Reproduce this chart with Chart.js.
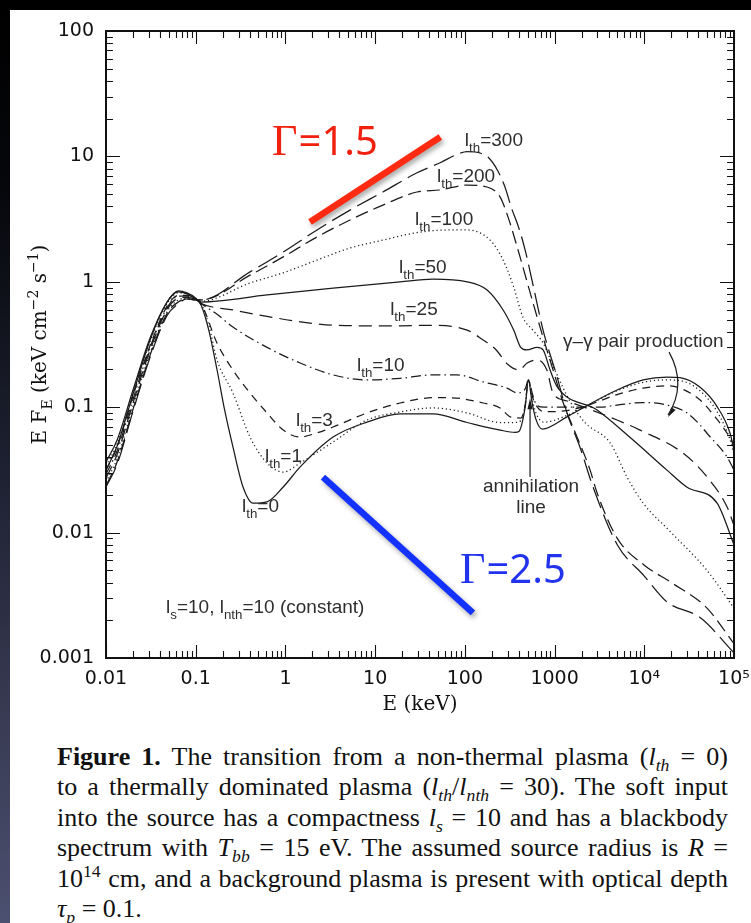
<!DOCTYPE html>
<html>
<head>
<meta charset="utf-8">
<script src="https://cdn.jsdelivr.net/npm/chart.js@4.4.1/dist/chart.umd.min.js"></script>
<style>
  html, body { margin: 0; padding: 0; width: 751px; height: 923px; overflow: hidden; background: #000; }
  #edge { position: absolute; left: 0; top: 0; width: 10px; height: 923px;
          background: linear-gradient(to bottom, #000 0%, #06070b 20%, #1d2030 50%, #383b53 78%, #4c5070 100%); }
  #sheet { position: absolute; left: 10px; top: 10px; width: 741px; height: 913px; background: #fff; }
  #plot { position: absolute; left: 0; top: 0; }
  #caption { position: absolute; left: 57px; top: 742px; width: 671px;
             font-family: "Liberation Serif", "Times New Roman", serif; font-size: 26px;
             line-height: 30.4px; color: #111; }
  #caption .ln { text-align: justify; text-align-last: justify; height: 30.4px; }
  #caption .ln.last { text-align: left; text-align-last: left; }
  #caption sub, #caption sup { font-size: 68%; line-height: 0; }
</style>
</head>
<body>
<div id="edge"></div>
<div id="sheet"></div>
<canvas id="plot" width="751" height="720"></canvas>
<div id="caption">
  <div class="ln"><b>Figure 1.</b> The transition from a non-thermal plasma (<i>l<sub>th</sub></i> = 0)</div>
  <div class="ln">to a thermally dominated plasma (<i>l<sub>th</sub></i>/<i>l<sub>nth</sub></i> = 30). The soft input</div>
  <div class="ln">into the source has a compactness <i>l<sub>s</sub></i> = 10 and has a blackbody</div>
  <div class="ln">spectrum with <i>T<sub>bb</sub></i> = 15 eV. The assumed source radius is <i>R</i> =</div>
  <div class="ln">10<sup>14</sup> cm, and a background plasma is present with optical depth</div>
  <div class="ln last"><i>τ<sub>p</sub></i> = 0.1.</div>
</div>
<script>
// ---- spectra: E (keV) and E F_E (keV cm^-2 s^-1) for each thermal compactness l_th ----
const E_L0 = [0.01, 0.0133, 0.02, 0.031, 0.048, 0.064, 0.08, 0.1, 0.115, 0.14, 0.173, 0.21, 0.26, 0.337, 0.435, 0.624, 0.945, 1.46, 3.4, 8.1, 19, 44, 106, 247, 363, 400, 470, 511, 560, 620, 730, 1377, 2300, 4970, 9700, 17900, 25000, 41900, 64800, 90400, 100000];
const F_L0 = [0.0366, 0.0547, 0.137, 0.356, 0.69, 0.845, 0.815, 0.74, 0.65, 0.41, 0.198, 0.095, 0.0482, 0.0231, 0.0172, 0.0176, 0.0231, 0.0334, 0.0578, 0.076, 0.0883, 0.0883, 0.0755, 0.0657, 0.063, 0.064, 0.10, 0.165, 0.11, 0.080, 0.067, 0.0838, 0.103, 0.137, 0.165, 0.174, 0.172, 0.144, 0.101, 0.062, 0.0455];

const E_L1 = [0.01, 0.0133, 0.02, 0.031, 0.048, 0.064, 0.08, 0.1, 0.115, 0.14, 0.173, 0.26, 0.403, 0.624, 0.945, 1.46, 3.4, 8.1, 19, 44, 106, 247, 350, 420, 470, 511, 560, 620, 760, 1377, 2300, 4970, 9700, 17900, 25000, 41900, 64800, 90400, 100000];
const F_L1 = [0.034, 0.051, 0.13, 0.335, 0.67, 0.815, 0.80, 0.74, 0.67, 0.45, 0.238, 0.13, 0.0578, 0.0359, 0.0304, 0.0359, 0.0528, 0.0789, 0.0916, 0.0986, 0.090, 0.0755, 0.0755, 0.078, 0.105, 0.165, 0.118, 0.090, 0.076, 0.086, 0.103, 0.135, 0.158, 0.165, 0.163, 0.135, 0.092, 0.055, 0.042];

const E_L3 = [0.01, 0.0133, 0.02, 0.031, 0.048, 0.064, 0.08, 0.1, 0.115, 0.173, 0.26, 0.403, 0.624, 0.945, 1.46, 2.25, 3.4, 8.1, 19, 44, 68, 160, 247, 320, 420, 470, 511, 560, 620, 760, 1377, 2300, 4970, 9700, 17900, 25000, 41900, 64800, 83800, 100000];
const F_L3 = [0.0315, 0.048, 0.123, 0.31, 0.64, 0.78, 0.78, 0.73, 0.67, 0.324, 0.198, 0.130, 0.090, 0.0657, 0.0578, 0.0624, 0.0695, 0.090, 0.108, 0.119, 0.119, 0.108, 0.0986, 0.0838, 0.082, 0.104, 0.165, 0.124, 0.104, 0.092, 0.094, 0.103, 0.126, 0.142, 0.148, 0.142, 0.114, 0.08, 0.062, 0.05];

const E_L10 = [0.01, 0.0133, 0.02, 0.031, 0.048, 0.064, 0.08, 0.1, 0.115, 0.173, 0.26, 0.624, 1.46, 3.4, 8.1, 19, 44, 82, 160, 295, 382, 470, 511, 560, 620, 760, 1500, 3214, 4970, 9700, 17900, 30000, 41900, 50000, 83800, 100000];
const F_L10 = [0.0293, 0.045, 0.116, 0.30, 0.62, 0.77, 0.77, 0.72, 0.67, 0.55, 0.436, 0.30, 0.225, 0.181, 0.165, 0.17, 0.181, 0.181, 0.159, 0.142, 0.130, 0.14, 0.165, 0.132, 0.106, 0.10, 0.10, 0.10, 0.104, 0.109, 0.104, 0.090, 0.072, 0.062, 0.040, 0.0315];

const E_L25 = [0.01, 0.0133, 0.02, 0.031, 0.048, 0.064, 0.08, 0.1, 0.115, 0.26, 0.624, 1.46, 3.4, 8.1, 19, 44, 106, 160, 220, 300, 400, 500, 640, 820, 960, 1377, 2300, 4970, 8970, 27100, 50000, 83800, 100000];
const F_L25 = [0.0272, 0.042, 0.108, 0.286, 0.60, 0.74, 0.75, 0.72, 0.67, 0.596, 0.53, 0.48, 0.45, 0.446, 0.446, 0.45, 0.412, 0.343, 0.29, 0.22, 0.198, 0.226, 0.238, 0.198, 0.13, 0.112, 0.098, 0.079, 0.0657, 0.043, 0.0278, 0.016, 0.0114];

const E_L50 = [0.01, 0.0133, 0.02, 0.031, 0.048, 0.064, 0.08, 0.1, 0.115, 0.624, 3.4, 19, 44, 106, 177, 267, 350, 420, 493, 638, 745, 891, 1067, 2980, 7500, 17900, 30000, 64800, 100000];
const F_L50 = [0.0315, 0.049, 0.127, 0.343, 0.69, 0.83, 0.80, 0.73, 0.69, 0.785, 0.89, 1.0, 1.05, 1.0, 0.86, 0.596, 0.412, 0.30, 0.286, 0.30, 0.286, 0.198, 0.146, 0.095, 0.0547, 0.0315, 0.023, 0.0172, 0.008];

const E_L100 = [0.01, 0.0133, 0.02, 0.031, 0.048, 0.064, 0.08, 0.1, 0.115, 0.403, 0.945, 2.25, 5.25, 12.2, 29.3, 68, 106, 191, 267, 350, 445, 576, 745, 1000, 1500, 2200, 4160, 6430, 9700, 20000, 50000, 100000];
const F_L100 = [0.0253, 0.039, 0.102, 0.27, 0.58, 0.716, 0.74, 0.716, 0.70, 0.978, 1.18, 1.49, 1.86, 2.15, 2.47, 2.59, 2.59, 2.15, 1.49, 0.91, 0.52, 0.41, 0.325, 0.2, 0.11, 0.075, 0.052, 0.0277, 0.0172, 0.01, 0.005, 0.0025];

const E_L200 = [0.01, 0.0133, 0.02, 0.031, 0.048, 0.064, 0.08, 0.1, 0.115, 0.403, 0.945, 2.25, 5.25, 12.2, 29.3, 53, 106, 177, 247, 303, 412, 576, 745, 962, 1245, 1780, 2490, 2980, 5000, 10000, 20000, 50000, 100000];
const F_L200 = [0.0237, 0.0366, 0.096, 0.26, 0.56, 0.69, 0.73, 0.716, 0.716, 1.13, 1.58, 2.28, 3.11, 4.09, 5.2, 5.4, 5.9, 5.7, 4.74, 3.28, 1.58, 0.677, 0.36, 0.198, 0.109, 0.058, 0.0315, 0.0207, 0.009, 0.0055, 0.004, 0.0025, 0.0013];

const E_L300 = [0.01, 0.0133, 0.02, 0.031, 0.048, 0.064, 0.08, 0.1, 0.115, 0.403, 0.945, 2.25, 5.25, 12.2, 29.3, 53, 80, 106, 150, 180, 230, 280, 330, 400, 470, 576, 745, 1067, 1377, 1920, 2690, 5000, 10000, 17900, 41900, 100000];
const F_L300 = [0.0231, 0.035, 0.093, 0.25, 0.54, 0.67, 0.73, 0.716, 0.716, 1.20, 1.73, 2.59, 3.73, 5.2, 7.4, 8.9, 10.3, 10.9, 10.6, 9.9, 7.8, 5.7, 3.9, 2.68, 1.79, 0.94, 0.41, 0.174, 0.090, 0.048, 0.023, 0.008, 0.0045, 0.0028, 0.0021, 0.0011];

// reference power-law slopes (photon index 1.5 and 2.5)
const E_GAMMA15 = [1.88, 53.3];
const F_GAMMA15 = [3.0, 14.3];
const E_GAMMA25 = [2.62, 123];
const F_GAMMA25 = [0.0277, 0.00229];

// axis decades and their labels
const X_DECADES = [0.01, 0.1, 1, 10, 100, 1000, 1e4, 1e5];
const X_LABELS = ['0.01', '0.1', '1', '10', '100', '1000', '10\u2074', '10\u2075'];
const Y_DECADES = [0.001, 0.01, 0.1, 1, 10, 100];
const Y_LABELS = ['0.001', '0.01', '0.1', '1', '10', '100'];

const pts = (E, F) => E.map((e, i) => ({ x: e, y: F[i] }));

const INK = '#1b1b1b';
function curve(E, F, dash) {
  return { data: pts(E, F), borderColor: INK, borderWidth: 1.25, borderDash: dash,
           pointRadius: 0, fill: false, cubicInterpolationMode: 'monotone' };
}
function slope(E, F, color) {
  return { data: pts(E, F), borderColor: color, borderWidth: 6.5, pointRadius: 0,
           fill: false, glow: true, borderCapStyle: 'butt' };
}

const DOT = [1.2, 2.8];
const datasets = [
  curve(E_L0, F_L0, []),
  curve(E_L1, F_L1, DOT),
  curve(E_L3, F_L3, [8, 6]),
  curve(E_L10, F_L10, [10, 4, 1.5, 4]),
  curve(E_L25, F_L25, [13, 7]),
  curve(E_L50, F_L50, []),
  curve(E_L100, F_L100, DOT),
  curve(E_L200, F_L200, [13, 6]),
  curve(E_L300, F_L300, [22, 7]),
  slope(E_GAMMA15, F_GAMMA15, '#ff2a12'),
  slope(E_GAMMA25, F_GAMMA25, '#1432ff')
];

// text annotations, anchored in data coordinates (left edge / baseline)
const SANS = '"Liberation Sans", Arial, Helvetica, sans-serif';
const LABEL_INK = '#2e2e2e';
const thLabels = [
  { E: 100,   F: 12.1,   sub: 'th', rest: '=300' },
  { E: 49,    F: 6.25,   sub: 'th', rest: '=200' },
  { E: 27.9,  F: 2.84,   sub: 'th', rest: '=100' },
  { E: 18.5,  F: 1.175,  sub: 'th', rest: '=50' },
  { E: 14.7,  F: 0.544,  sub: 'th', rest: '=25' },
  { E: 6.28,  F: 0.194,  sub: 'th', rest: '=10' },
  { E: 1.31,  F: 0.0708, sub: 'th', rest: '=3' },
  { E: 0.592, F: 0.0366, sub: 'th', rest: '=1' },
  { E: 0.328, F: 0.0146, sub: 'th', rest: '=0' }
];

function drawRich(ctx, x, y, parts, size, family, color, measureOnly) {
  let w = 0;
  for (const [txt, mode] of parts) {
    const s = mode ? size * 0.7 : size;
    ctx.font = s + 'px ' + family;
    const dy = mode === 'sub' ? size * 0.32 : (mode === 'sup' ? -size * 0.42 : 0);
    if (!measureOnly) {
      ctx.fillStyle = color;
      ctx.textBaseline = 'alphabetic';
      ctx.textAlign = 'left';
      ctx.fillText(txt, x + w, y + dy);
    }
    w += ctx.measureText(txt).width;
  }
  return w;
}

function arrowHead(ctx, tipX, tipY, dirX, dirY, len, half) {
  const n = Math.hypot(dirX, dirY); dirX /= n; dirY /= n;
  ctx.beginPath();
  ctx.moveTo(tipX, tipY);
  ctx.lineTo(tipX - dirX * len - dirY * half, tipY - dirY * len + dirX * half);
  ctx.lineTo(tipX - dirX * len + dirY * half, tipY - dirY * len - dirX * half);
  ctx.closePath();
  ctx.fill();
}

const glowPlugin = {
  id: 'glow',
  beforeDatasetDraw(chart, args) {
    const ds = chart.data.datasets[args.index];
    if (!ds.glow) return;
    const ctx = chart.ctx;
    ctx.save();
    ctx.shadowColor = 'rgba(0,0,0,0.35)';
    ctx.shadowBlur = 5;
    ctx.shadowOffsetX = 2;
    ctx.shadowOffsetY = 3;
  },
  afterDatasetDraw(chart, args) {
    const ds = chart.data.datasets[args.index];
    if (ds.glow) chart.ctx.restore();
  }
};

const notesPlugin = {
  id: 'notes',
  afterDatasetsDraw(chart) {
    const ctx = chart.ctx, xs = chart.scales.x, ys = chart.scales.y;
    const P = (E, F) => [xs.getPixelForValue(E), ys.getPixelForValue(F)];
    ctx.save();
    for (const l of thLabels) {
      const [x, y] = P(l.E, l.F);
      drawRich(ctx, x, y, [['l', ''], [l.sub, 'sub'], [l.rest, '']], 19, SANS, LABEL_INK);
    }
    let [x, y] = P(0.0467, 0.00229);
    drawRich(ctx, x, y, [['l', ''], ['s', 'sub'], ['=10, l', ''], ['nth', 'sub'], ['=10 (constant)', '']], 19, SANS, LABEL_INK);
    [x, y] = P(1245, 0.302);
    drawRich(ctx, x, y, [['\u03b3\u2013\u03b3 pair production', '']], 19, SANS, LABEL_INK);

    // annihilation line note + arrow
    ctx.font = '19px ' + SANS; ctx.fillStyle = LABEL_INK; ctx.textAlign = 'center'; ctx.textBaseline = 'alphabetic';
    [x, y] = P(547, 0.0211); ctx.fillText('annihilation', x, y);
    [x, y] = P(547, 0.0143); ctx.fillText('line', x, y);
    const [ax, ay0] = P(533, 0.0277), [, ay1] = P(533, 0.118);
    ctx.strokeStyle = INK; ctx.fillStyle = INK; ctx.lineWidth = 1.2;
    ctx.beginPath(); ctx.moveTo(ax, ay0); ctx.lineTo(ax, ay1 + 8); ctx.stroke();
    arrowHead(ctx, ax, ay1, 0, -1, 11, 2.6);

    // pair-production arrow
    const [p0x, p0y] = P(18900, 0.275), [cx, cy] = P(30000, 0.15), [p2x, p2y] = P(18400, 0.0867);
    ctx.beginPath(); ctx.moveTo(p0x, p0y); ctx.quadraticCurveTo(cx, cy, p2x, p2y + 0); ctx.stroke();
    arrowHead(ctx, p2x, p2y + 2, p2x - cx, p2y - cy, 10, 2.6);

    // photon-index tags
    [x, y] = P(0.71, 10.3);
    let w = drawRich(ctx, x, y, [['\u0393', '']], 44, '"Liberation Serif", serif', '#f2200e');
    drawRich(ctx, x + w + 1, y, [['=1.5', '']], 40, '"Noto Sans", sans-serif', '#f2200e');
    [x, y] = P(88.3, 0.00396);
    w = drawRich(ctx, x, y, [['\u0393', '']], 44, '"Liberation Serif", serif', '#2233ee');
    drawRich(ctx, x + w + 1, y, [['=2.5', '']], 40, '"Noto Sans", sans-serif', '#2233ee');
    ctx.restore();
  },
  afterDraw(chart) {
    const ctx = chart.ctx, a = chart.chartArea, xs = chart.scales.x, ys = chart.scales.y;
    ctx.save();
    ctx.strokeStyle = '#111';
    // inward tick marks on all four sides
    ctx.lineWidth = 1.1;
    ctx.beginPath();
    for (let d = 0; d < X_DECADES.length; d++) {
      for (let m = 1; m <= 9; m++) {
        const v = X_DECADES[d] * m;
        if (v > xs.max * 1.0001) break;
        const px = Math.round(xs.getPixelForValue(v)) + 0.5;
        const len = m === 1 ? 13 : 7;
        ctx.moveTo(px, a.bottom); ctx.lineTo(px, a.bottom - len);
        ctx.moveTo(px, a.top); ctx.lineTo(px, a.top + len);
      }
    }
    for (let d = 0; d < Y_DECADES.length; d++) {
      for (let m = 1; m <= 9; m++) {
        const v = Y_DECADES[d] * m;
        if (v > ys.max * 1.0001) break;
        const py = Math.round(ys.getPixelForValue(v)) + 0.5;
        const len = m === 1 ? 14 : 7;
        ctx.moveTo(a.left, py); ctx.lineTo(a.left + len, py);
        ctx.moveTo(a.right, py); ctx.lineTo(a.right - len, py);
      }
    }
    ctx.stroke();
    ctx.lineWidth = 2;
    ctx.strokeRect(a.left, a.top, a.right - a.left, a.bottom - a.top);

    // axis titles
    const SERIF = '"DejaVu Serif", serif';
    ctx.font = '20px ' + SERIF;
    ctx.fillStyle = '#111';
    ctx.textAlign = 'center'; ctx.textBaseline = 'middle';
    ctx.fillText('E (keV)', (a.left + a.right) / 2, 705);
    const yTitle = [['E F', ''], ['E', 'sub'], [' (keV cm', ''], ['\u22122', 'sup'], [' s', ''], ['\u22121', 'sup'], [')', '']];
    const tw = drawRich(ctx, 0, 0, yTitle, 20, SERIF, '#111', true);
    ctx.translate(46, (a.top + a.bottom) / 2);
    ctx.rotate(-Math.PI / 2);
    drawRich(ctx, -tw / 2, 0, yTitle, 20, SERIF, '#111');
    ctx.restore();
  }
};

const decadeLabel = (decades, labels) => (v) => {
  const i = decades.findIndex(d => Math.abs(Math.log10(d) - Math.log10(v)) < 1e-6);
  return i >= 0 ? labels[i] : '';
};

new Chart(document.getElementById('plot'), {
  type: 'line',
  data: { datasets },
  options: {
    responsive: false,
    animation: false,
    devicePixelRatio: 1,
    parsing: false,
    normalized: true,
    layout: { padding: { left: 10, top: 31, right: 17, bottom: 0 } },
    plugins: { legend: { display: false }, tooltip: { enabled: false } },
    scales: {
      x: {
        type: 'logarithmic', min: 0.01, max: 1e5, position: 'bottom',
        grid: { display: false, drawTicks: false },
        border: { display: false },
        afterBuildTicks: (s) => { s.ticks = X_DECADES.map(v => ({ value: v })); },
        // the end labels may overhang the plot frame; keep the frame where it is
        afterFit: (s) => { s.height = 62; s.paddingLeft = 0; s.paddingRight = 0; },
        ticks: { autoSkip: false, maxRotation: 0, padding: 10, color: '#111',
                 font: { family: '"DejaVu Sans", sans-serif', size: 19 },
                 callback: decadeLabel(X_DECADES, X_LABELS) }
      },
      y: {
        type: 'logarithmic', min: 0.001, max: 100, position: 'left',
        grid: { display: false, drawTicks: false },
        border: { display: false },
        afterBuildTicks: (s) => { s.ticks = Y_DECADES.map(v => ({ value: v })); },
        afterFit: (s) => { s.width = 96; },
        ticks: { autoSkip: false, padding: 12, color: '#111',
                 font: { family: '"DejaVu Sans", sans-serif', size: 19 },
                 callback: decadeLabel(Y_DECADES, Y_LABELS) }
      }
    }
  },
  plugins: [glowPlugin, notesPlugin]
});
</script>
</body>
</html>
